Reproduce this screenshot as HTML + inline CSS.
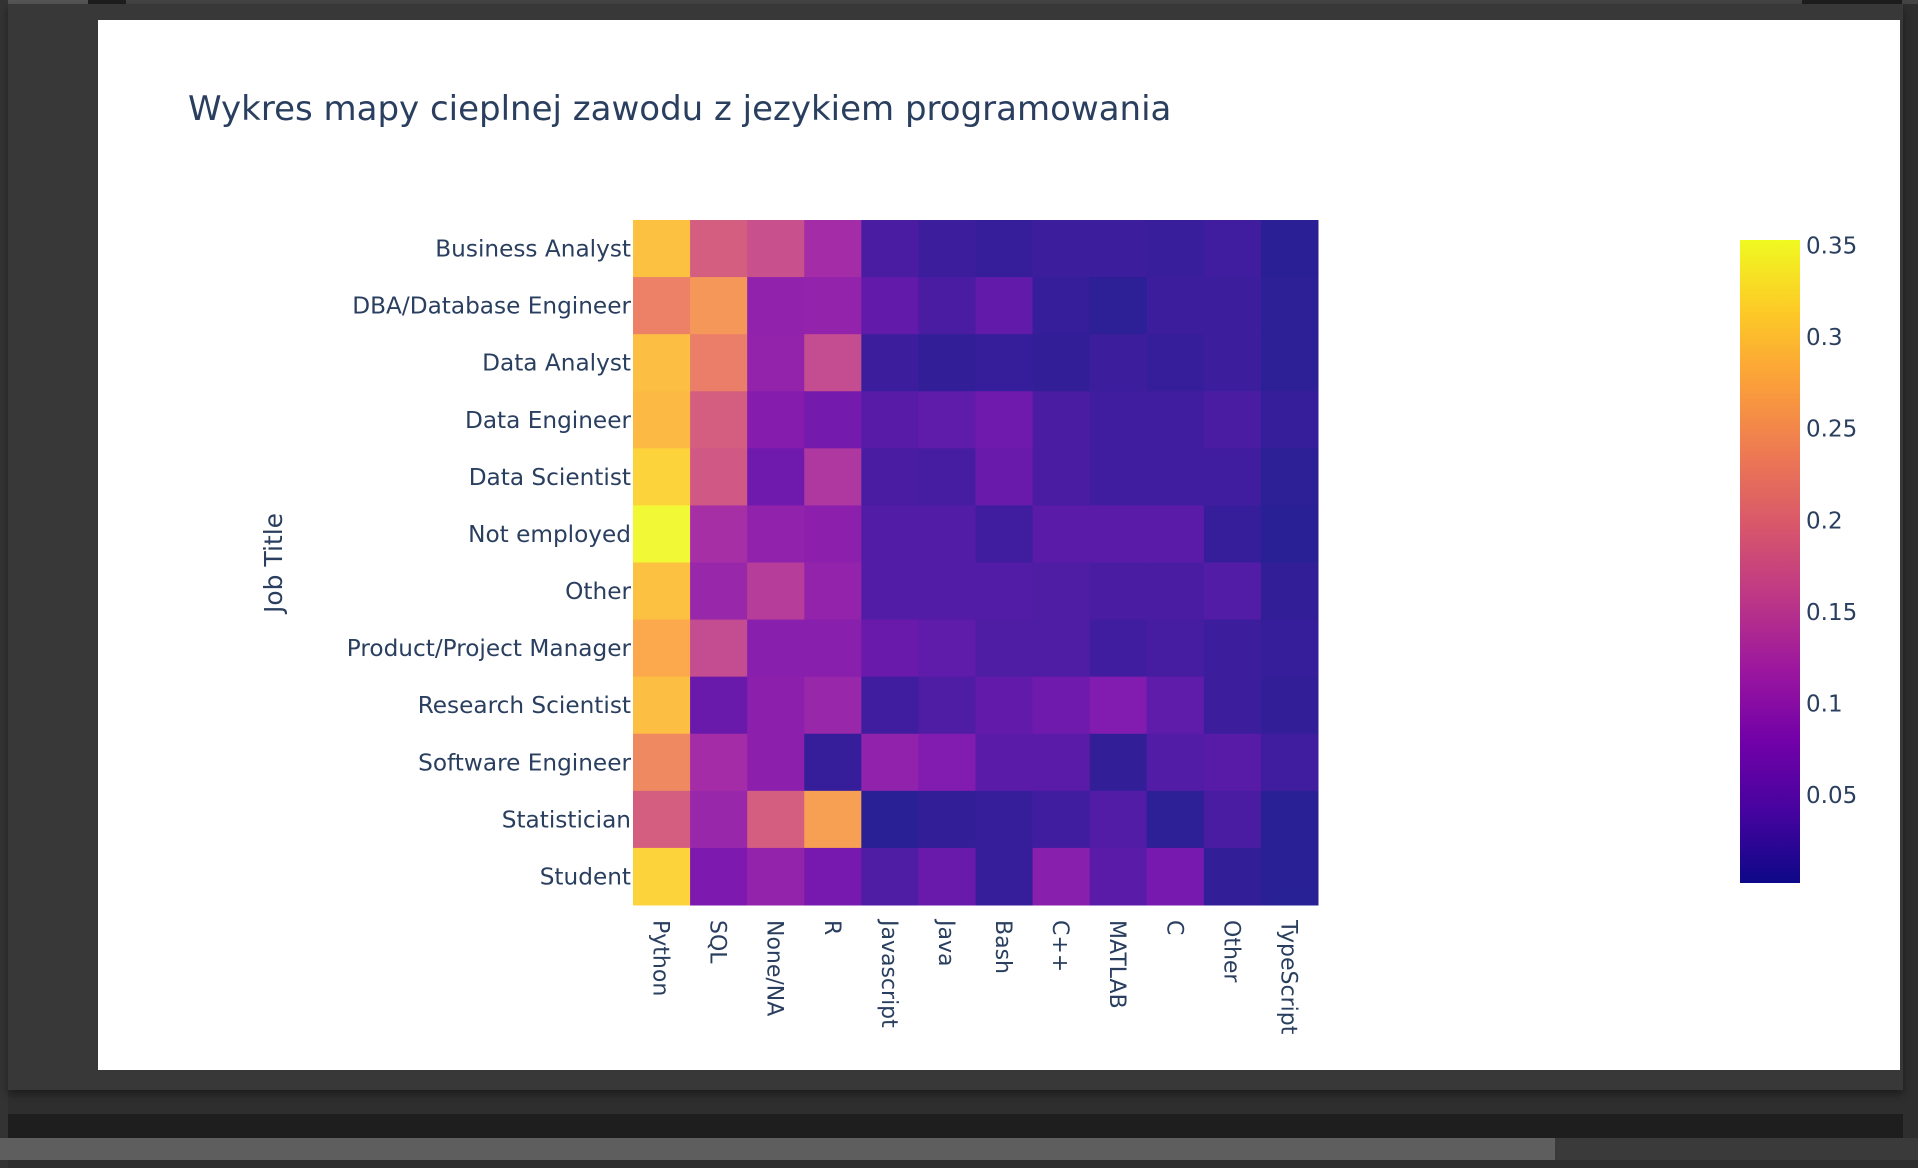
<!DOCTYPE html>
<html><head><meta charset="utf-8">
<style>
html,body{margin:0;padding:0;width:1918px;height:1168px;overflow:hidden;background:#2e2e2e;font-family:"DejaVu Sans","Liberation Sans",sans-serif;}
.abs{position:absolute;}
</style></head>
<body>
<div class="abs" style="left:0;top:0;width:8px;height:1168px;background:#333"></div>
<div class="abs" style="left:8px;top:0;width:1910px;height:4px;background:#444"></div>
<div class="abs" style="left:8px;top:0;width:80px;height:4px;background:#555"></div>
<div class="abs" style="left:88px;top:0;width:38px;height:4px;background:#1e1e1e"></div>
<div class="abs" style="left:1802px;top:0;width:100px;height:4px;background:#1e1e1e"></div>
<div class="abs" style="left:8px;top:4px;width:1895px;height:1086px;background:#383838;box-shadow:0 4px 8px rgba(0,0,0,.4)"></div>
<div class="abs" style="left:8px;top:1114px;width:1895px;height:24px;background:#1e1e1e"></div>
<div class="abs" style="left:0;top:1138px;width:1918px;height:22px;background:#3a3a3a"></div>
<div class="abs" style="left:0;top:1138px;width:1555px;height:22px;background:#5e5e5e"></div>
<svg class="abs" style="left:0;top:0" width="1918" height="1168" id="svg">
<rect x="98" y="20" width="1802" height="1050" fill="#fff"/>
<text x="188" y="120" font-size="34" fill="#2a3f5f">Wykres mapy cieplnej zawodu z jezykiem programowania</text>
<text transform="translate(282,563) rotate(-90)" text-anchor="middle" font-size="25" fill="#2a3f5f">Job Title</text>
<defs><linearGradient id="plasma" x1="0" y1="1" x2="0" y2="0">
<stop offset="0" stop-color="#0d0887"/><stop offset="0.1111" stop-color="#46039f"/><stop offset="0.2222" stop-color="#7201a8"/><stop offset="0.3333" stop-color="#9c179e"/><stop offset="0.4444" stop-color="#bd3786"/><stop offset="0.5556" stop-color="#d8576b"/><stop offset="0.6667" stop-color="#ed7953"/><stop offset="0.7778" stop-color="#fb9f3a"/><stop offset="0.8889" stop-color="#fdca26"/><stop offset="1" stop-color="#f0f921"/>
</linearGradient></defs>
<rect x="1740" y="240" width="60" height="643" fill="url(#plasma)"/>
<g id="cells" opacity="0.9"></g><g id="labels"></g>
</svg>
<script>
const jobs=["Business Analyst","DBA/Database Engineer","Data Analyst","Data Engineer","Data Scientist","Not employed","Other","Product/Project Manager","Research Scientist","Software Engineer","Statistician","Student"];
const langs=["Python","SQL","None/NA","R","Javascript","Java","Bash","C++","MATLAB","C","Other","TypeScript"];
const rowBA=[0.300,0.185,0.167,0.118,0.030,0.020,0.016,0.020,0.020,0.018,0.023,0.007];
const rowDBA=[0.230,0.255,0.097,0.100,0.051,0.030,0.051,0.016,0.009,0.020,0.020,0.009];
const rowDA=[0.297,0.227,0.100,0.160,0.020,0.012,0.016,0.012,0.020,0.016,0.020,0.009];
const rowDE=[0.293,0.185,0.086,0.069,0.041,0.048,0.065,0.030,0.023,0.023,0.030,0.016];
const rowDS=[0.318,0.178,0.065,0.132,0.030,0.027,0.058,0.030,0.023,0.023,0.023,0.009];
const rowNE=[0.353,0.121,0.097,0.093,0.037,0.037,0.023,0.044,0.044,0.044,0.016,0.005];
const rowOT=[0.300,0.107,0.142,0.100,0.037,0.037,0.037,0.034,0.030,0.030,0.037,0.012];
const rowPM=[0.276,0.160,0.090,0.090,0.058,0.048,0.034,0.034,0.023,0.027,0.020,0.016];
const rowRS=[0.297,0.058,0.093,0.107,0.023,0.034,0.051,0.065,0.083,0.048,0.020,0.012];
const rowSE=[0.240,0.118,0.093,0.016,0.097,0.083,0.044,0.044,0.012,0.037,0.041,0.023];
const rowST=[0.185,0.107,0.185,0.265,0.005,0.012,0.016,0.023,0.037,0.009,0.030,0.005];
const rowSTU=[0.318,0.079,0.100,0.072,0.034,0.058,0.016,0.090,0.044,0.072,0.012,0.005];
const values=[rowBA,rowDBA,rowDA,rowDE,rowDS,rowNE,rowOT,rowPM,rowRS,rowSE,rowST,rowSTU];
const cbTicks=[0.05,0.1,0.15,0.2,0.25,0.3,0.35];
const cbTickLabels=["0.05","0.1","0.15","0.2","0.25","0.3","0.35"];
const zmin=0.002,zmax=0.353;
const plot={x:633,y:220,w:685,h:685};
const stops=[[13,8,135],[70,3,159],[114,1,168],[156,23,158],[189,55,134],[216,87,107],[237,121,83],[251,159,58],[253,202,38],[240,249,33]];
function color(v){let t=Math.max(0,Math.min(1,(v-zmin)/(zmax-zmin)));const p=t*9;let i=Math.min(8,Math.floor(p));const f=p-i;const a=stops[i],b=stops[i+1];return `rgb(${a.map((c,k)=>Math.round(c+(b[k]-c)*f)).join(',')})`;}
const cw=plot.w/langs.length,ch=plot.h/jobs.length;
const xPos=i=>plot.x+i*cw, yPos=j=>plot.y+j*ch;
const cbY=v=>883-(v-zmin)/(zmax-zmin)*643;
const NS="http://www.w3.org/2000/svg";
const cells=document.getElementById('cells'),labels=document.getElementById('labels');
values.forEach((row,j)=>row.forEach((v,i)=>{const r=document.createElementNS(NS,'rect');


r.setAttribute('x',xPos(i));r.setAttribute('y',yPos(j));r.setAttribute('width',cw+0.5);r.setAttribute('height',ch+0.5);r.setAttribute('fill',color(v));cells.appendChild(r);}));
jobs.forEach((n,j)=>{const t=document.createElementNS(NS,'text');


t.setAttribute('x',plot.x-2);t.setAttribute('y',yPos(j)+ch/2+8);t.setAttribute('text-anchor','end');t.setAttribute('font-size','23.2');t.setAttribute('fill','#2a3f5f');t.textContent=n;labels.appendChild(t);});
langs.forEach((n,i)=>{const t=document.createElementNS(NS,'text');


const cx=xPos(i)+cw/2-8;t.setAttribute('transform',`translate(${cx},920) rotate(90)`);t.setAttribute('font-size','22');t.setAttribute('fill','#2a3f5f');t.textContent=n;labels.appendChild(t);});
cbTicks.forEach((v,k)=>{const t=document.createElementNS(NS,'text');


t.setAttribute('x',1806);t.setAttribute('y',cbY(v)+8);t.setAttribute('font-size','23');t.setAttribute('fill','#2a3f5f');t.textContent=cbTickLabels[k];labels.appendChild(t);});
</script>
</body></html>
